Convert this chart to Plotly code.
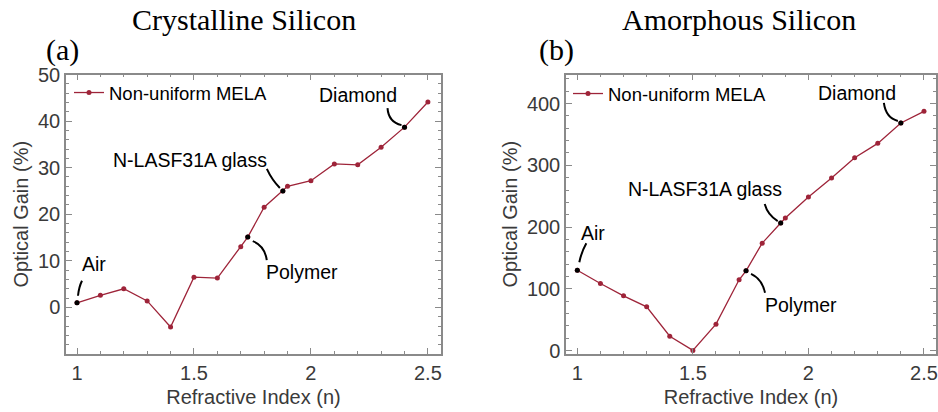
import plotly.graph_objects as go

# ---------------- data ----------------
n_index = [1.0, 1.1, 1.2, 1.3, 1.4, 1.5, 1.6, 1.7, 1.73, 1.8, 1.88, 1.9, 2.0, 2.1, 2.2, 2.3, 2.4, 2.5]
gain_crystalline = [1.0, 2.6, 4.0, 1.4, -4.2, 6.5, 6.3, 13.0, 15.1, 21.5, 25.0, 26.0, 27.2, 30.8, 30.6, 34.4, 38.7, 44.1]
gain_amorphous = [130.0, 108.6, 88.7, 70.8, 23.3, 0.3, 42.8, 114.6, 129.2, 174.0, 206.5, 214.6, 248.6, 279.4, 312.3, 335.5, 368.6, 387.4]

material_names = ["Air", "Polymer", "N-LASF31A glass", "Diamond"]
material_n = [1.0, 1.73, 1.88, 2.4]

x_tickvals = [1, 1.5, 2, 2.5]
x_ticktext = ["1", "1.5", "2", "2.5"]
ya_tickvals = [0, 10, 20, 30, 40, 50]
yb_tickvals = [0, 100, 200, 300, 400]

series_name = "Non-uniform MELA"
panel_titles = ["Crystalline Silicon", "Amorphous Silicon"]
panel_tags = ["(a)", "(b)"]

# ---------------- style ----------------
RED = "#9E2439"
GREY = "#8a8a8a"
TXT = "#3a3a3a"
SANS = "Arial, Liberation Sans, sans-serif"
SERIF = "Times New Roman, Liberation Serif, serif"

W, H = 938, 412


def lookup(n, xs, ys):
    return ys[xs.index(n)]


fig = go.Figure()

panels = [
    dict(xa="x", ya="y", data=gain_crystalline, legend="legend"),
    dict(xa="x2", ya="y2", data=gain_amorphous, legend="legend2"),
]

for p in panels:
    fig.add_trace(go.Scatter(
        x=n_index, y=p["data"], mode="lines+markers", name=series_name,
        line=dict(color=RED, width=1.3),
        marker=dict(color=RED, size=5, symbol="circle"),
        xaxis=p["xa"], yaxis=p["ya"], legend=p["legend"], showlegend=True))
    fig.add_trace(go.Scatter(
        x=material_n, y=[lookup(n, n_index, p["data"]) for n in material_n],
        mode="markers", marker=dict(color="black", size=5, symbol="circle"),
        xaxis=p["xa"], yaxis=p["ya"], showlegend=False, hoverinfo="skip"))

# label offsets (pixels, relative to the material point) and leader-curve paths
label_shift = {
    "x": {"Air": (17, 39), "Polymer": (54, -35), "N-LASF31A glass": (-93, 31), "Diamond": (-47, 32)},
    "x2": {"Air": (16, 37), "Polymer": (55, -34), "N-LASF31A glass": (-76, 34), "Diamond": (-44, 30)},
}
leader_path = {
    "x": {"Air": "M 1 7 Q 2 16 5 22",
          "Polymer": "M 5 -4 Q 17 -9 19 -23",
          "N-LASF31A glass": "M -16 22 Q -11 11 -3 3",
          "Diamond": "M -17 19 Q -16 5 -3 2"},
    "x2": {"Air": "M 2 8 Q 4 18 9 27",
           "Polymer": "M 5 -3 Q 16 -8 19 -22",
           "N-LASF31A glass": "M -16 19 Q -13 8 -3 2",
           "Diamond": "M -17 20 Q -15 5 -3 2"},
}

annotations = []
shapes = []
for p in panels:
    for name, n in zip(material_names, material_n):
        yv = lookup(n, n_index, p["data"])
        sx, sy = label_shift[p["xa"]][name]
        annotations.append(dict(
            x=n, y=yv, xref=p["xa"], yref=p["ya"], text=name, showarrow=False,
            xshift=sx, yshift=sy, font=dict(family=SANS, size=19.5, color="black")))
        shapes.append(dict(
            type="path", xref=p["xa"], yref=p["ya"], xsizemode="pixel", ysizemode="pixel",
            xanchor=n, yanchor=yv, path=leader_path[p["xa"]][name],
            line=dict(color="black", width=2)))

# titles
title_x = [244 / W, 739 / W]
tag_x = [62 / W, 556 / W]
for t, tx, tag, gx in zip(panel_titles, title_x, panel_tags, tag_x):
    annotations.append(dict(x=tx, y=1 - 20 / H, xref="paper", yref="paper", text=t,
                            showarrow=False, font=dict(family=SERIF, size=30, color="black"),
                            xanchor="center", yanchor="middle"))
    annotations.append(dict(x=gx, y=1 - 50 / H, xref="paper", yref="paper", text=tag,
                            showarrow=False, font=dict(family=SERIF, size=30, color="black"),
                            xanchor="center", yanchor="middle"))

common_axis = dict(
    showline=True, linecolor=GREY, linewidth=1.5, mirror="allticks",
    ticks="inside", ticklen=6, tickcolor=GREY, tickwidth=1,
    showgrid=False, zeroline=False, automargin=False,
    tickfont=dict(family=SANS, size=20, color=TXT),
)

xdom_a = [66 / W, 441 / W]
xdom_b = [566 / W, 936 / W]
ydom = [1 - 354 / H, 1 - 74.5 / H]

xaxis_common = dict(common_axis, range=[0.953, 2.556], tickmode="array",
                    tickvals=x_tickvals, ticktext=x_ticktext,
                    minor=dict(dtick=0.1, tick0=1, ticks="inside", ticklen=3, tickcolor=GREY),
                    title=dict(text="Refractive Index (n)", standoff=7,
                               font=dict(family=SANS, size=20, color=TXT)))

fig.update_layout(
    width=W, height=H, margin=dict(l=0, r=0, t=0, b=0),
    paper_bgcolor="white", plot_bgcolor="white",
    xaxis=dict(xaxis_common, domain=xdom_a, anchor="y"),
    xaxis2=dict(xaxis_common, domain=xdom_b, anchor="y2", range=[0.951, 2.552]),
    yaxis=dict(common_axis, domain=ydom, anchor="x", range=[-10, 50], tickmode="array",
               tickvals=ya_tickvals,
               minor=dict(dtick=2, tick0=0, ticks="inside", ticklen=3, tickcolor=GREY),
               title=dict(text="Optical Gain (%)", standoff=4,
                          font=dict(family=SANS, size=20, color=TXT))),
    yaxis2=dict(common_axis, domain=ydom, anchor="x2", range=[-5.5, 447], tickmode="array",
                tickvals=yb_tickvals,
                minor=dict(dtick=20, tick0=0, ticks="inside", ticklen=3, tickcolor=GREY),
                title=dict(text="Optical Gain (%)", standoff=4,
                           font=dict(family=SANS, size=20, color=TXT))),
    legend=dict(x=69 / W, y=1 - 93 / H, xanchor="left", yanchor="middle",
                bgcolor="rgba(0,0,0,0)", font=dict(family=SANS, size=18.5, color="black")),
    legend2=dict(x=568 / W, y=1 - 94 / H, xanchor="left", yanchor="middle",
                 bgcolor="rgba(0,0,0,0)", font=dict(family=SANS, size=18.5, color="black")),
    annotations=annotations,
    shapes=shapes,
    showlegend=True,
)

fig.write_html("out.html", config={"displayModeBar": False},
               post_script="document.body.style.margin='0';document.body.style.overflow='hidden';")
